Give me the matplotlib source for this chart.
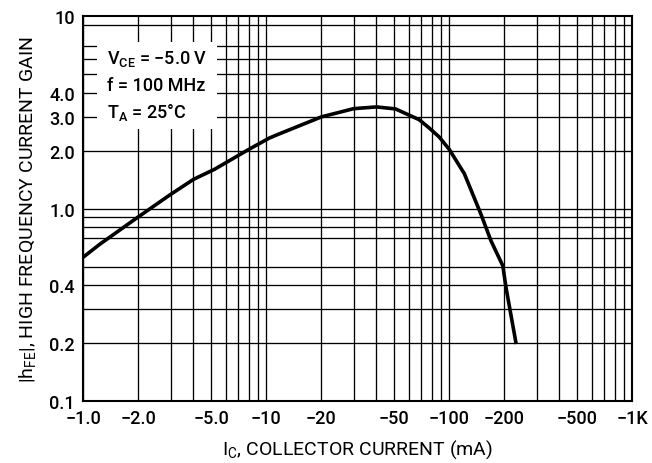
import matplotlib
matplotlib.use("Agg")
import matplotlib.pyplot as plt
from matplotlib.patches import Rectangle

plt.rcParams['font.family'] = ['Roboto', 'DejaVu Sans']
plt.rcParams['font.weight'] = 'medium'

# curve (collector current magnitude in mA, |hFE|)
ic = [1.0, 1.23, 1.97, 3.0, 4.0, 5.2, 8.0, 10.4, 11.8, 20.0, 30.0, 40.0, 50.8,
      68.5, 77.5, 88.0, 100.0, 120.8, 149.0, 169.0, 196.0, 204.0, 231.0]
hfe = [0.56, 0.653, 0.898, 1.186, 1.42, 1.60, 2.03, 2.33, 2.45, 3.0, 3.31, 3.38,
       3.30, 2.90, 2.63, 2.36, 2.03, 1.52, 0.934, 0.68, 0.505, 0.39, 0.202]

x_ticks = [1, 2, 5, 10, 20, 50, 100, 200, 500, 1000]
x_labels = ['\u22121.0', '\u22122.0', '\u22125.0', '\u221210', '\u221220', '\u221250',
            '\u2212100', '\u2212200', '\u2212500', '\u22121K']
x_grid = [m * d for d in (1, 10, 100) for m in range(1, 10)] + [1000]

y_ticks = [0.1, 0.2, 0.4, 1.0, 2.0, 3.0, 4.0, 10]
y_labels = ['0.1', '0.2', '0.4', '1.0', '2.0', '3.0', '4.0', '10']
y_grid = [0.2, 0.3, 0.4, 0.5, 0.7, 0.8, 0.9, 1.0, 2, 3, 4, 5, 6, 7, 9]

fig = plt.figure(figsize=(6.52, 4.64), dpi=100)
ax = fig.add_axes([0.1278, 0.1336, 0.842, 0.8291])
ax.set_xscale('log')
ax.set_yscale('log')
ax.set_xlim(1, 1000)
ax.set_ylim(0.1, 10)

for gx in x_grid:
    ax.axvline(gx, color='black', lw=0.95, zorder=1)
for gy in y_grid:
    ax.axhline(gy, color='black', lw=0.95, zorder=1)

ax.xaxis.set_minor_locator(matplotlib.ticker.NullLocator())
ax.yaxis.set_minor_locator(matplotlib.ticker.NullLocator())
ax.set_xticks(x_ticks)
ax.set_xticklabels(x_labels)
ax.set_yticks(y_ticks)
ax.set_yticklabels(y_labels)
ax.tick_params(length=0, labelsize=13, pad=6)
for s in ax.spines.values():
    s.set_linewidth(1.5)

# white box with test conditions
ax.add_patch(Rectangle((0.025, 0.707), 0.219, 0.226, transform=ax.transAxes,
                       facecolor='white', edgecolor='none', zorder=2))
ax.text(0.043, 0.892, '$\\mathregular{V_{CE}}$ = \u22125.0 V', transform=ax.transAxes,
        fontsize=13, va='center', zorder=3)
ax.text(0.043, 0.822, 'f = 100 MHz', transform=ax.transAxes, fontsize=13,
        va='center', zorder=3)
ax.text(0.043, 0.752, '$\\mathregular{T_A}$ = 25°C', transform=ax.transAxes,
        fontsize=13, va='center', zorder=3)

ax.plot(ic, hfe, color='black', lw=2.6, zorder=4, solid_joinstyle='round')

ax.set_xlabel('$\\mathregular{I_C}$, COLLECTOR CURRENT (mA)', fontsize=14, labelpad=7)
ax.set_ylabel('$\\mathregular{|h_{FE}|}$, HIGH FREQUENCY CURRENT GAIN', fontsize=14,
              labelpad=8)

fig.savefig('out.png', dpi=100)
